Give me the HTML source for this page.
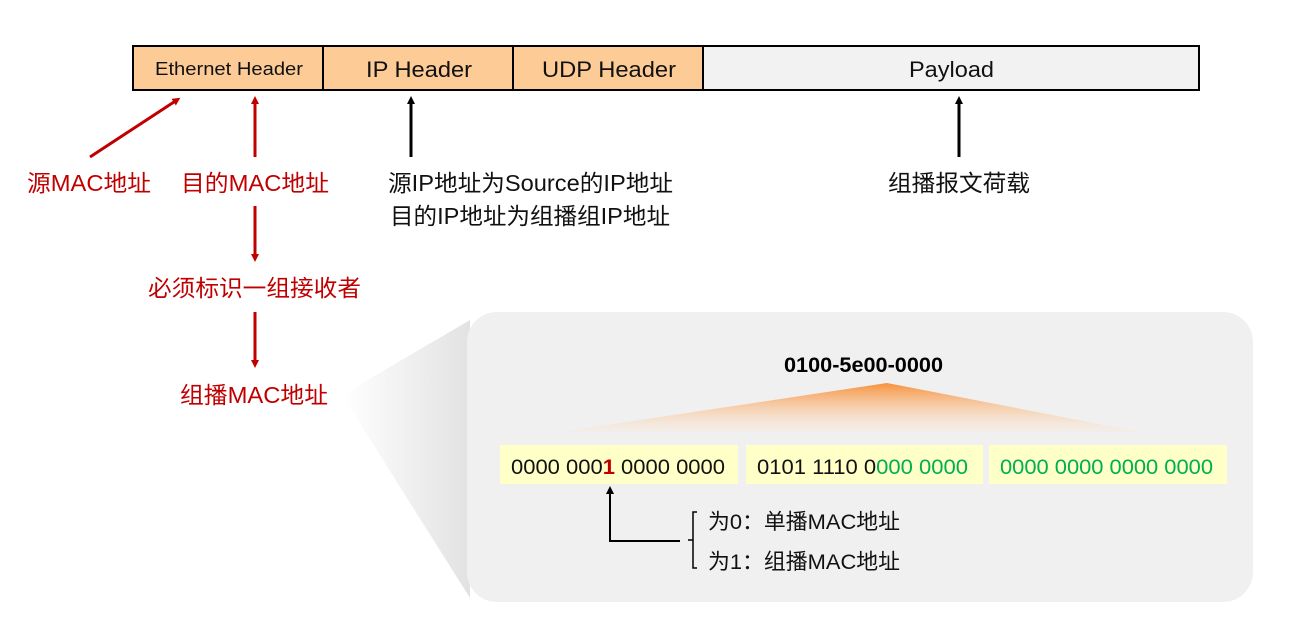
<!DOCTYPE html>
<html><head><meta charset="utf-8"><style>
html,body{margin:0;padding:0;background:#fff;}
svg text{font-family:"Liberation Sans","Noto Sans CJK SC",sans-serif;}
</style></head><body>
<svg width="1289" height="622" viewBox="0 0 1289 622" xmlns="http://www.w3.org/2000/svg">
<defs>
<marker id="ar" markerWidth="8" markerHeight="8" refX="4" refY="4" orient="auto" markerUnits="userSpaceOnUse"><path d="M0,0 L8,4 L0,8 z" fill="#c00000"/></marker>
<marker id="ab" markerWidth="8" markerHeight="8" refX="4" refY="4" orient="auto" markerUnits="userSpaceOnUse"><path d="M0,0 L8,4 L0,8 z" fill="#000"/></marker>
<linearGradient id="sh" x1="0" y1="0" x2="1" y2="0"><stop offset="0" stop-color="#fff"/><stop offset="1" stop-color="#e2e2e2"/></linearGradient>
<linearGradient id="og" x1="0" y1="0" x2="0" y2="1"><stop offset="0" stop-color="#f7913b"/><stop offset="1" stop-color="#fde3cc" stop-opacity="0.2"/></linearGradient>
</defs>
<rect x="133" y="46" width="570" height="44" fill="#fccb96"/>
<rect x="703" y="46" width="496" height="44" fill="#f2f2f2"/>
<rect x="133" y="46" width="1066" height="44" fill="none" stroke="#000" stroke-width="2"/>
<line x1="323" y1="46" x2="323" y2="90" stroke="#000" stroke-width="2"/>
<line x1="513" y1="46" x2="513" y2="90" stroke="#000" stroke-width="2"/>
<line x1="703" y1="46" x2="703" y2="90" stroke="#000" stroke-width="2"/>
<text x="155" y="75" font-size="18" textLength="148" lengthAdjust="spacingAndGlyphs" fill="#111">Ethernet Header</text>
<text x="366" y="77" font-size="22" textLength="106" lengthAdjust="spacingAndGlyphs" fill="#111">IP Header</text>
<text x="542" y="77" font-size="22" textLength="134" lengthAdjust="spacingAndGlyphs" fill="#111">UDP Header</text>
<text x="909" y="77" font-size="22" textLength="85" lengthAdjust="spacingAndGlyphs" fill="#111">Payload</text>
<line x1="90" y1="157" x2="177" y2="100" stroke="#c00000" stroke-width="3" marker-end="url(#ar)"/>
<line x1="255" y1="157" x2="255" y2="100" stroke="#c00000" stroke-width="3" marker-end="url(#ar)"/>
<line x1="255" y1="206" x2="255" y2="258" stroke="#c00000" stroke-width="3" marker-end="url(#ar)"/>
<line x1="255" y1="312" x2="255" y2="364" stroke="#c00000" stroke-width="3" marker-end="url(#ar)"/>
<text x="27" y="191" font-size="23" textLength="124" lengthAdjust="spacingAndGlyphs" fill="#c00000">源MAC地址</text>
<text x="181" y="191" font-size="23" textLength="148" lengthAdjust="spacingAndGlyphs" fill="#c00000">目的MAC地址</text>
<text x="148" y="296" font-size="23" textLength="213" lengthAdjust="spacingAndGlyphs" fill="#c00000">必须标识一组接收者</text>
<text x="180" y="403" font-size="23" textLength="148" lengthAdjust="spacingAndGlyphs" fill="#c00000">组播MAC地址</text>
<line x1="411" y1="157" x2="411" y2="100" stroke="#000" stroke-width="3" marker-end="url(#ab)"/>
<line x1="959" y1="157" x2="959" y2="100" stroke="#000" stroke-width="3" marker-end="url(#ab)"/>
<text x="388" y="191" font-size="23" textLength="285" lengthAdjust="spacingAndGlyphs" fill="#111">源IP地址为Source的IP地址</text>
<text x="390" y="224" font-size="23" textLength="280" lengthAdjust="spacingAndGlyphs" fill="#111">目的IP地址为组播组IP地址</text>
<text x="888" y="191" font-size="23" textLength="142" lengthAdjust="spacingAndGlyphs" fill="#111">组播报文荷载</text>
<polygon points="342,395 470,320 470,598" fill="url(#sh)"/>
<rect x="467" y="312" width="786" height="290" rx="30" fill="#f0f0f0"/>
<text x="784" y="372" font-size="21" font-weight="bold" textLength="159" lengthAdjust="spacingAndGlyphs" fill="#000">0100-5e00-0000</text>
<polygon points="887,383 560,432 1140,432" fill="url(#og)"/>
<rect x="500" y="445" width="238" height="39" fill="#ffffc8"/>
<rect x="746" y="445" width="237" height="39" fill="#ffffc8"/>
<rect x="989" y="445" width="238" height="39" fill="#ffffc8"/>
<text x="511" y="474" font-size="21.5" textLength="214" lengthAdjust="spacingAndGlyphs" fill="#111">0000 000<tspan fill="#c00000" font-weight="bold">1</tspan> 0000 0000</text>
<text x="757" y="474" font-size="21.5" textLength="211" lengthAdjust="spacingAndGlyphs" fill="#111">0101 1110 0<tspan fill="#00b050">000 0000</tspan></text>
<text x="1000" y="474" font-size="21.5" textLength="213" lengthAdjust="spacingAndGlyphs" fill="#00b050">0000 0000 0000 0000</text>
<line x1="610" y1="541" x2="610" y2="490" stroke="#000" stroke-width="2" marker-end="url(#ab)"/>
<line x1="609" y1="541" x2="680" y2="541" stroke="#000" stroke-width="2"/>
<path d="M697,512 H693 V568 H697 M693,540 H688" fill="none" stroke="#000" stroke-width="1.5"/>
<text x="708" y="529" font-size="21.5" textLength="192" lengthAdjust="spacingAndGlyphs" fill="#111">为0：单播MAC地址</text>
<text x="708" y="569" font-size="21.5" textLength="192" lengthAdjust="spacingAndGlyphs" fill="#111">为1：组播MAC地址</text>
</svg>
</body></html>
